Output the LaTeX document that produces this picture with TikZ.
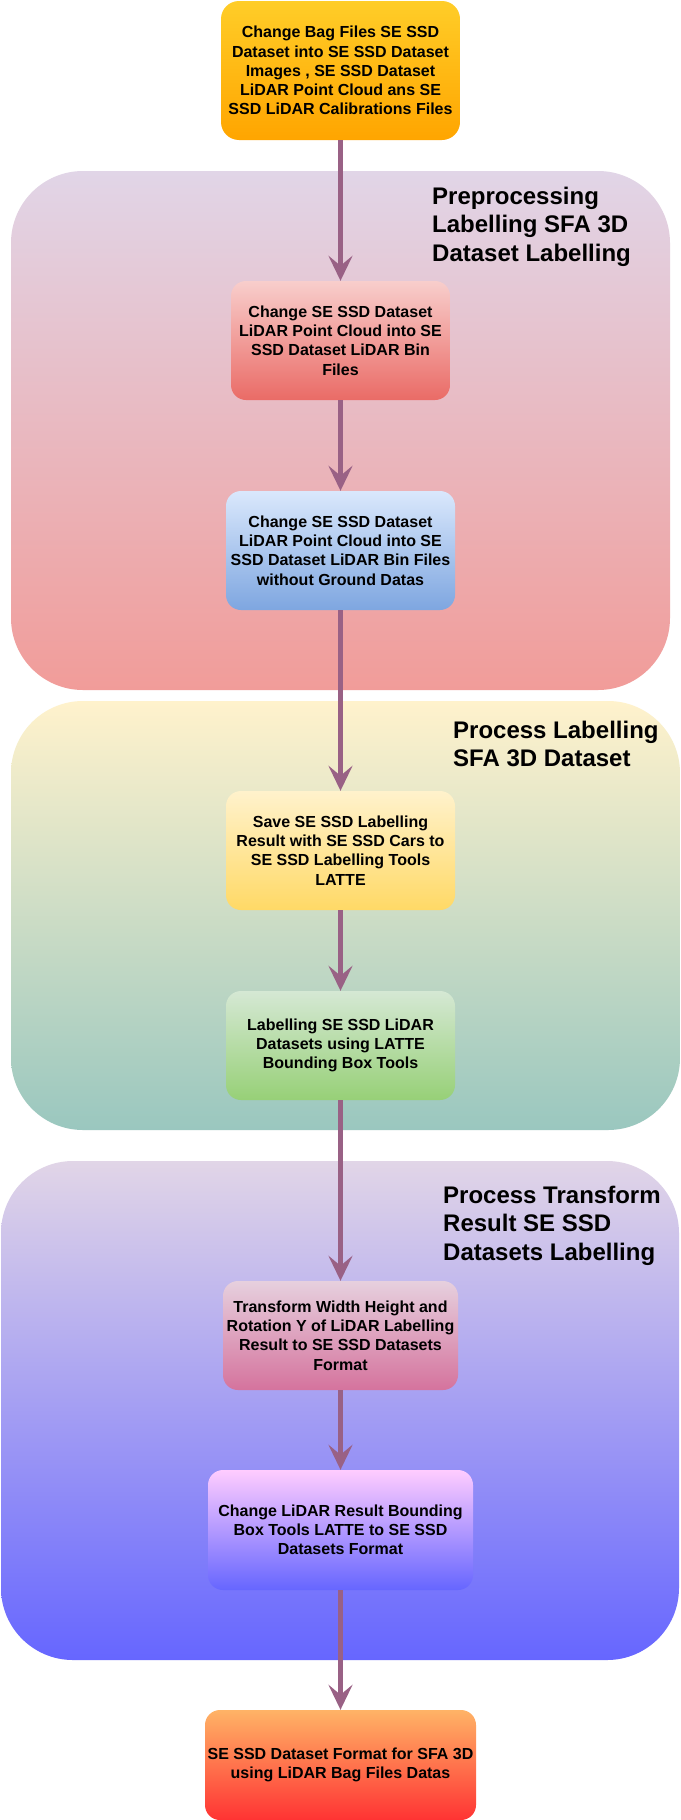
\documentclass[tikz,border=0pt]{standalone}
\usepackage{fontspec}
\setmainfont{Liberation Sans}
\usetikzlibrary{arrows.meta,positioning}
\definecolor{FlowInk}{HTML}{996185}
\definecolor{LaneLilac}{HTML}{E1D5E7}
\definecolor{LaneRose}{HTML}{F19C99}
\definecolor{LaneCream}{HTML}{FFF2CC}
\definecolor{LaneTeal}{HTML}{9AC7BF}
\definecolor{LaneBlue}{HTML}{6666FF}
\definecolor{AmberTop}{HTML}{FFCD28}
\definecolor{AmberBot}{HTML}{FFA500}
\definecolor{RedTop}{HTML}{F8CECC}
\definecolor{RedBot}{HTML}{EA6B66}
\definecolor{SkyTop}{HTML}{DAE8FC}
\definecolor{SkyBot}{HTML}{7EA6E0}
\definecolor{SandTop}{HTML}{FFF2CC}
\definecolor{SandBot}{HTML}{FFD966}
\definecolor{MintTop}{HTML}{D5E8D4}
\definecolor{MintBot}{HTML}{97D077}
\definecolor{PinkTop}{HTML}{E6D0DE}
\definecolor{PinkBot}{HTML}{D5739D}
\definecolor{OrchidTop}{HTML}{FFCCFF}
\definecolor{OrchidBot}{HTML}{6666FF}
\definecolor{FlameTop}{HTML}{FFB366}
\definecolor{FlameBot}{HTML}{FF3333}

\begin{document}
\begin{tikzpicture}[x=1pt,y=-1pt,>={Stealth[length=25pt,width=24pt,inset=10pt]},every node/.style={text=black},stepbox/.style={rounded corners=15pt,inner sep=0pt,align=center,font=\bfseries\fontsize{16}{19.2}\selectfont},flow/.style={->,line width=5.5pt,draw=FlowInk},lane/.style={rounded corners=72pt},lanetitle/.style={anchor=north west,align=left,inner sep=0pt,font=\bfseries\fontsize{24}{28.8}\selectfont}]
\useasboundingbox (0,0) rectangle (680,1820);
\fill[white] (0,0) rectangle (680,1820);
% lanes
\shade[lane,top color=LaneLilac,bottom color=LaneRose] (11,171) rectangle (670,690);
\shade[lane,top color=LaneCream,bottom color=LaneTeal] (11,701) rectangle (680,1130);
\shade[lane,top color=LaneLilac,bottom color=LaneBlue] (1,1161) rectangle (679,1660);
\node[lanetitle] (prepTitle) at (432,186.5) {Preprocessing\\Labelling SFA 3D\\Dataset Labelling};
\node[lanetitle] (labelTitle) at (453,720.5) {Process Labelling\\SFA 3D Dataset};
\node[lanetitle] (transTitle) at (443,1185.5) {Process Transform\\Result SE SSD\\Datasets Labelling};
% steps
\node[stepbox,rounded corners=18pt,top color=AmberTop,bottom color=AmberBot,minimum width=239pt,minimum height=139pt] (bagFiles) at (340.5,70.5) {Change Bag Files SE SSD\\Dataset into SE SSD Dataset\\Images , SE SSD Dataset\\LiDAR Point Cloud ans SE\\SSD LiDAR Calibrations Files};
\node[stepbox,top color=RedTop,bottom color=RedBot,minimum width=219pt,minimum height=119pt] (binFiles) at (340.5,340.5) {Change SE SSD Dataset\\LiDAR Point Cloud into SE\\SSD Dataset LiDAR Bin\\Files};
\node[stepbox,top color=SkyTop,bottom color=SkyBot,minimum width=229pt,minimum height=119pt] (noGround) at (340.5,550.5) {Change SE SSD Dataset\\LiDAR Point Cloud into SE\\SSD Dataset LiDAR Bin Files\\without Ground Datas};
\node[stepbox,top color=SandTop,bottom color=SandBot,minimum width=229pt,minimum height=119pt] (saveCars) at (340.5,850.5) {Save SE SSD Labelling\\Result with SE SSD Cars to\\SE SSD Labelling Tools\\LATTE};
\node[stepbox,top color=MintTop,bottom color=MintBot,minimum width=229pt,minimum height=109pt] (latteBox) at (340.5,1045.5) {Labelling SE SSD LiDAR\\Datasets using LATTE\\Bounding Box Tools};
\node[stepbox,top color=PinkTop,bottom color=PinkBot,minimum width=235pt,minimum height=109pt] (rotY) at (340.5,1335.5) {Transform Width Height and\\Rotation Y of LiDAR Labelling\\Result to SE SSD Datasets\\Format};
\node[stepbox,top color=OrchidTop,bottom color=OrchidBot,minimum width=265pt,minimum height=120pt] (toFormat) at (340.5,1530) {Change LiDAR Result Bounding\\Box Tools LATTE to SE SSD\\Datasets Format};
\node[stepbox,top color=FlameTop,bottom color=FlameBot,minimum width=271pt,minimum height=110pt] (sfaFormat) at (340.5,1765) {SE SSD Dataset Format for SFA 3D\\using LiDAR Bag Files Datas};
% flow
\draw[flow] (bagFiles)--(binFiles);
\draw[flow] (binFiles)--(noGround);
\draw[flow] (noGround)--(saveCars);
\draw[flow] (saveCars)--(latteBox);
\draw[flow] (latteBox)--(rotY);
\draw[flow] (rotY)--(toFormat);
\draw[flow] (toFormat)--(sfaFormat);
\end{tikzpicture}
\end{document}
